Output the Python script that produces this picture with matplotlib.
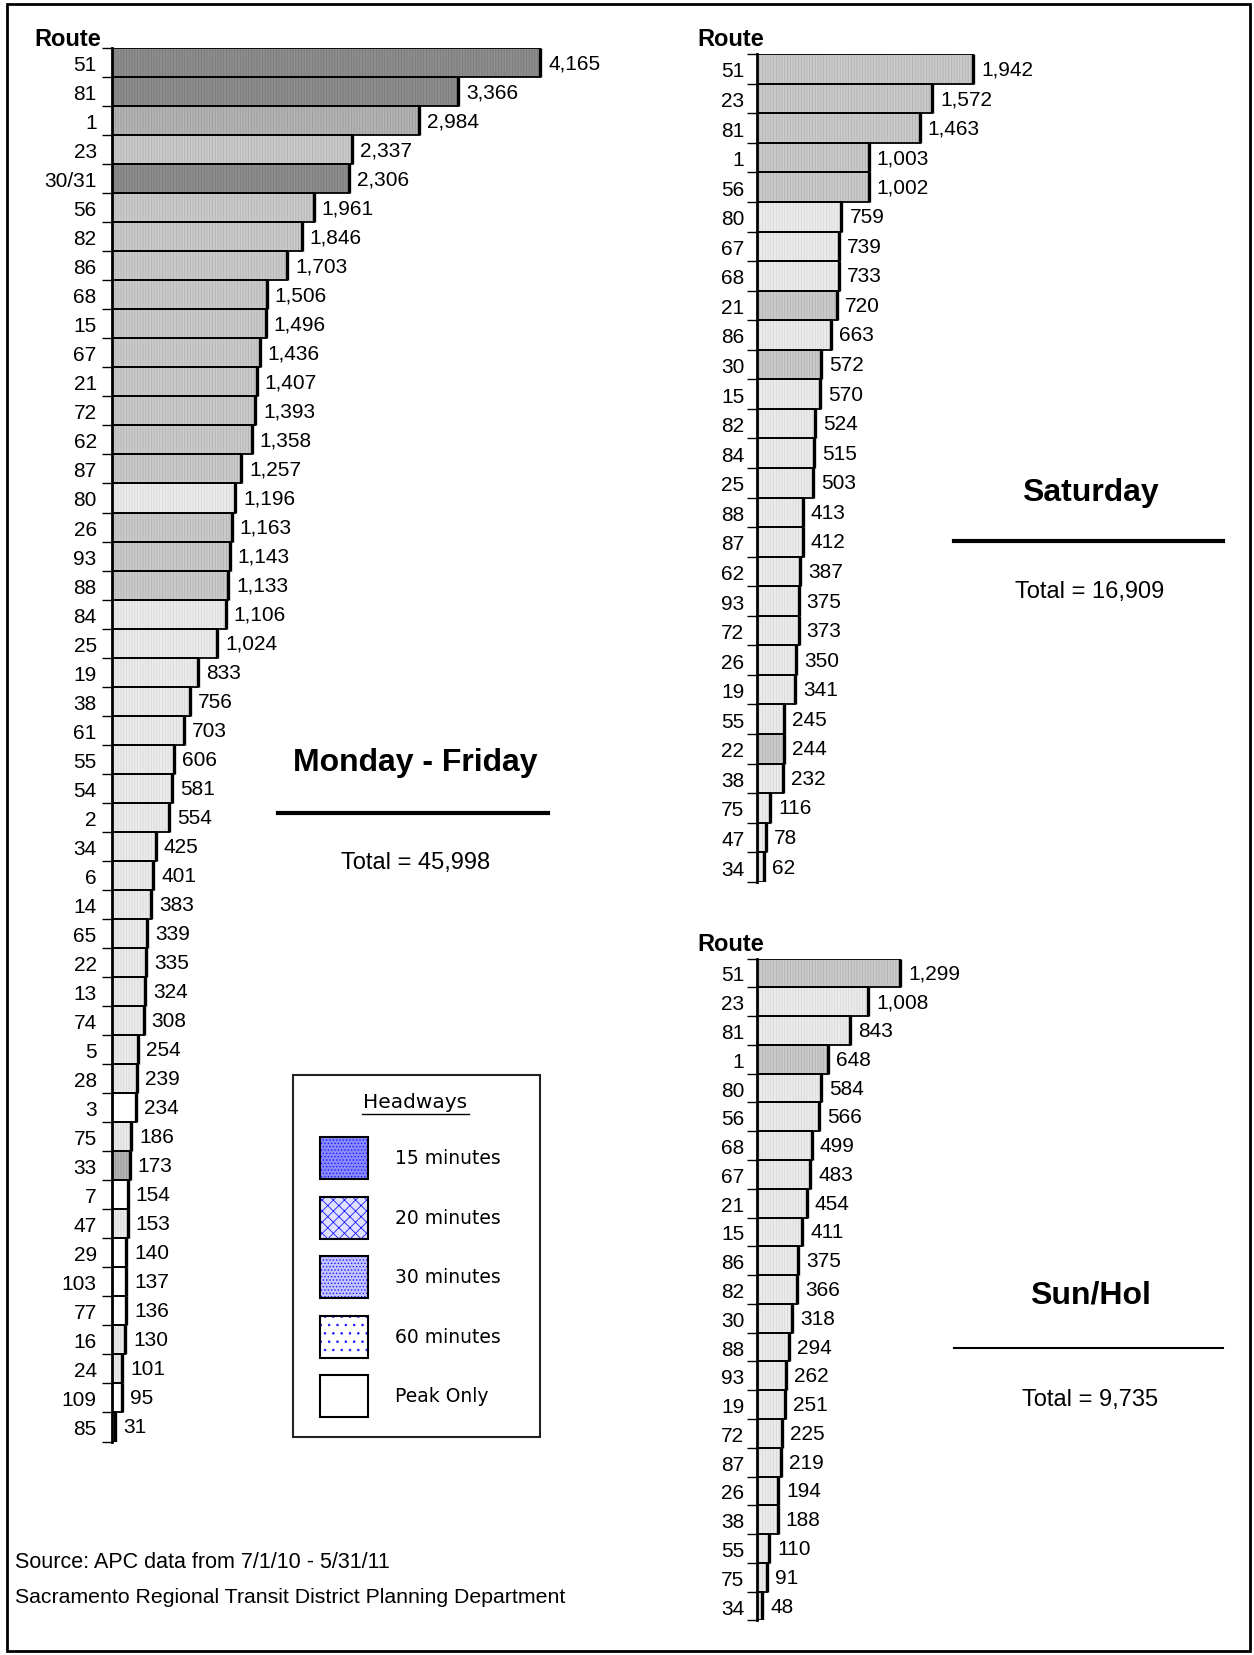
import numpy as np
import matplotlib
matplotlib.use('Agg')
import matplotlib.pyplot as plt
from matplotlib.patches import Rectangle

plt.rcParams['font.family'] = ['Liberation Sans', 'DejaVu Sans']
plt.rcParams['hatch.linewidth'] = 0.6

# weekday ridership by route
wk_routes = ['51', '81', '1', '23', '30/31', '56', '82', '86', '68', '15', '67', '21', '72', '62',
             '87', '80', '26', '93', '88', '84', '25', '19', '38', '61', '55', '54', '2', '34',
             '6', '14', '65', '22', '13', '74', '5', '28', '3', '75', '33', '7', '47', '29',
             '103', '77', '16', '24', '109', '85']
wk_values = [4165, 3366, 2984, 2337, 2306, 1961, 1846, 1703, 1506, 1496, 1436, 1407, 1393, 1358,
             1257, 1196, 1163, 1143, 1133, 1106, 1024, 833, 756, 703, 606, 581, 554, 425,
             401, 383, 339, 335, 324, 308, 254, 239, 234, 186, 173, 154, 153, 140,
             137, 136, 130, 101, 95, 31]
wk_headway = ['15', '15', '20', '30', '15', '30', '30', '30', '30', '30', '30', '30', '30', '30',
              '30', '60', '30', '30', '30', '60', '60', '60', '60', '60', '60', '60', '60', '60',
              '60', '60', '60', '60', '60', '60', '60', '60', 'peak', '60', '20', 'peak', '60', 'peak',
              'peak', 'peak', '60', '60', 'peak', 'peak']
wk_total = '45,998'

# saturday
sat_routes = ['51', '23', '81', '1', '56', '80', '67', '68', '21', '86', '30', '15', '82', '84',
              '25', '88', '87', '62', '93', '72', '26', '19', '55', '22', '38', '75', '47', '34']
sat_values = [1942, 1572, 1463, 1003, 1002, 759, 739, 733, 720, 663, 572, 570, 524, 515,
              503, 413, 412, 387, 375, 373, 350, 341, 245, 244, 232, 116, 78, 62]
sat_headway = ['30', '30', '30', '30', '30', '60', '60', '60', '30', '60', '30', '60', '60', '60',
               '60', '60', '60', '60', '60', '60', '60', '60', '60', '30', '60', '60', '60', '60']
sat_total = '16,909'

# sunday / holiday
sun_routes = ['51', '23', '81', '1', '80', '56', '68', '67', '21', '15', '86', '82', '30', '88',
              '93', '19', '72', '87', '26', '38', '55', '75', '34']
sun_values = [1299, 1008, 843, 648, 584, 566, 499, 483, 454, 411, 375, 366, 318, 294,
              262, 251, 225, 219, 194, 188, 110, 91, 48]
sun_headway = ['30', '60', '60', '30'] + ['60'] * 19
sun_total = '9,735'

legend_keys = ['15', '20', '30', '60', 'peak']
legend_names = ['15 minutes', '20 minutes', '30 minutes', '60 minutes', 'Peak Only']

# gray fill and texture line colour per headway
fills = {'15': '#8e8e8e', '20': '#b4b4b4', '30': '#cbcbcb', '60': '#ececec', 'peak': '#ffffff'}
grain = {'15': '#7a7a7a', '20': '#9c9c9c', '30': '#b3b3b3', '60': '#d8d8d8', 'peak': '#ffffff'}

W, H = 1254, 1656
fig = plt.figure(figsize=(W / 100, H / 100), dpi=100)


def box(x0, top, w, h):
    return [x0 / W, 1 - (top + h) / H, w / W, h / H]


# overlay for frame, titles and legend
ov = fig.add_axes([0, 0, 1, 1])
ov.set_xlim(0, W)
ov.set_ylim(H, 0)
ov.axis('off')
ov.add_patch(Rectangle((7, 5), 1243, 1647, fill=False, lw=2, ec='black'))


def draw_panel(rect, routes, values, headway, xmax, pad=9):
    ax = fig.add_axes(rect)
    n = len(routes)
    y = np.arange(n)
    ax.barh(y, values, height=1.0, color=[fills[h] for h in headway],
            edgecolor=[grain[h] for h in headway], linewidth=0, hatch='||||||')
    ax.barh(y, values, height=1.0, fill=False, edgecolor='black', linewidth=1.3)
    ax.vlines(values, y - 0.5, y + 0.5, color='black', linewidth=2.4)
    ax.set_ylim(n - 0.5, -0.5)
    ax.set_xlim(0, xmax)
    ax.set_yticks(y)
    ax.set_yticklabels(routes, fontsize=15)
    ax.tick_params(axis='y', which='major', length=0, pad=pad)
    ax.set_yticks(np.arange(n + 1) - 0.5, minor=True)
    ax.tick_params(axis='y', which='minor', length=7, width=1, direction='out')
    ax.set_xticks([])
    for s in ['top', 'right', 'bottom']:
        ax.spines[s].set_visible(False)
    ax.spines['left'].set_linewidth(2)
    ax.patch.set_alpha(0)
    for yi, v in zip(y, values):
        ax.annotate(f'{v:,}', (v, yi), xytext=(8, 0), textcoords='offset pixels',
                    va='center', ha='left', fontsize=15)
    return ax


draw_panel(box(112, 49, 520, 1393.5), wk_routes, wk_values, wk_headway, 520 / 0.1028, pad=11)
draw_panel(box(757, 55.2, 300, 827.6), sat_routes, sat_values, sat_headway, 300 / 0.1113)
draw_panel(box(757, 959.6, 300, 661.8), sun_routes, sun_values, sun_headway, 300 / 0.110)

# column headers
for x, yy in [(34, 39), (697, 39), (697, 945)]:
    ov.text(x, yy, 'Route', fontsize=17, fontweight='bold', va='center', ha='left')

# day titles and totals
ov.text(415, 763, 'Monday - Friday', fontsize=23, fontweight='bold', ha='center', va='center')
ov.plot([278, 548], [814, 814], color='black', lw=3)
ov.text(416, 863, f'Total = {wk_total}', fontsize=17, ha='center', va='center')

ov.text(1090, 493, 'Saturday', fontsize=23, fontweight='bold', ha='center', va='center')
ov.plot([954, 1223], [542, 542], color='black', lw=3)
ov.text(1090, 592, f'Total = {sat_total}', fontsize=17, ha='center', va='center')

ov.text(1090, 1296, 'Sun/Hol', fontsize=23, fontweight='bold', ha='center', va='center')
ov.plot([954, 1223], [1349, 1349], color='black', lw=1.5)
ov.text(1090, 1400, f'Total = {sun_total}', fontsize=17, ha='center', va='center')

# headway legend
ov.add_patch(Rectangle((293, 1076), 247, 362, fill=False, lw=1.5, ec='#222222'))
ov.text(415, 1103, 'Headways', fontsize=14.5, ha='center', va='center', family='DejaVu Sans')
ov.plot([362, 469], [1115, 1115], color='black', lw=1)
swatch = {
    '15': dict(fc='#8a8aff', hatch='.....'),
    '20': dict(fc='#e0e0ff', hatch='xxx'),
    '30': dict(fc='#c4c4ff', hatch='.....'),
    '60': dict(fc='white', hatch='..'),
    'peak': dict(fc='white', hatch=None),
}
for i, (key, name) in enumerate(zip(legend_keys, legend_names)):
    top = 1138 + i * 59.5
    st = swatch[key]
    ov.add_patch(Rectangle((320, top), 48, 42, fc=st['fc'], hatch=st['hatch'],
                           ec='#1a1aff', lw=0))
    ov.add_patch(Rectangle((320, top), 48, 42, fill=False, ec='black', lw=1.5))
    ov.text(395, top + 21, name, fontsize=13.5, ha='left', va='center', family='DejaVu Sans')

# source notes
ov.text(15, 1563, 'Source: APC data from 7/1/10 - 5/31/11', fontsize=15.5, ha='left', va='center')
ov.text(15, 1598, 'Sacramento Regional Transit District Planning Department', fontsize=15.3,
        ha='left', va='center')

fig.savefig('out.png', dpi=100)
